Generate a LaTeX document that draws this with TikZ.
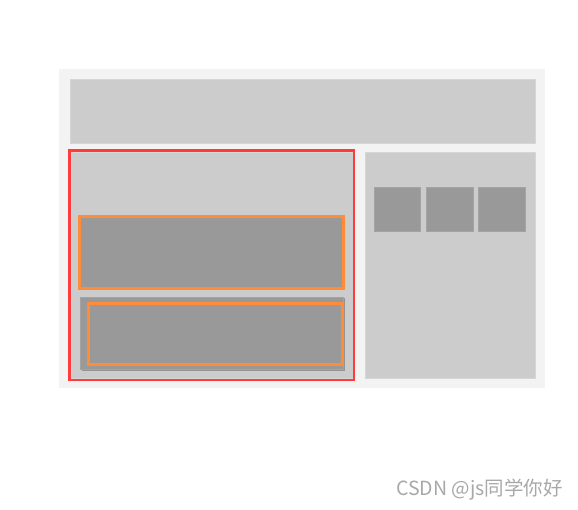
\documentclass[tikz,border=0pt]{standalone}
\usepackage{fontspec}
\newfontfamily\cjk{Noto Sans CJK SC}
\definecolor{panelbg}{HTML}{F3F3F3}
\definecolor{lightgray}{HTML}{CCCCCC}
\definecolor{darkgray}{HTML}{999999}
\definecolor{redline}{HTML}{FF3B3B}
\definecolor{orangeline}{HTML}{FF8C38}
\definecolor{wmark}{HTML}{A8A8A8}
\tikzset{
  panel/.style={fill=panelbg, draw=none},
  lightbox/.style={fill=lightgray, draw=black!16, line width=0.6pt},
  darkbox/.style={fill=darkgray, draw=black!36, line width=0.6pt},
  redframe/.style={draw=redline, line width=2.8pt},
  orangeframe/.style={draw=orangeline, line width=3pt},
}
\begin{document}
\begin{tikzpicture}[x=1pt,y=-1pt]
\useasboundingbox (0,0) rectangle (578,510);
% outer panel
\fill[panel] (58.5,69) rectangle (545,388);
% header
\filldraw[lightbox] (70,79) rectangle (535,143);
% left main panel
\filldraw[lightbox] (71,152) rectangle (353,378);
% right panel
\filldraw[lightbox] (365,152) rectangle (535,378);
% squares
\filldraw[darkbox] (374,187.5) rectangle (420.5,231.5);
\filldraw[darkbox] (426,187.5) rectangle (473,231.5);
\filldraw[darkbox] (478.5,187.5) rectangle (525.5,231.5);
% first dark box with orange frame
\filldraw[darkbox] (80,217) rectangle (343,289);
\draw[orangeframe] (79.7,216.7) rectangle (343,289);
% second dark box with inner orange frame
\fill[black!42] (81.5,298.5) rectangle (345,370.5);
\filldraw[darkbox] (80.3,297.3) rectangle (343.7,369.3);
\draw[orangeframe] (88.5,303.5) rectangle (342.5,364.3);
% red frame
\draw[redframe] (69.5,150.5) rectangle (354,380);
% watermark
\node[anchor=west, text=wmark, font=\cjk\fontsize{19.5}{22}\selectfont, inner sep=0pt] (wm) at (396,490) {CSDN @js同学你好};
\end{tikzpicture}
\end{document}
